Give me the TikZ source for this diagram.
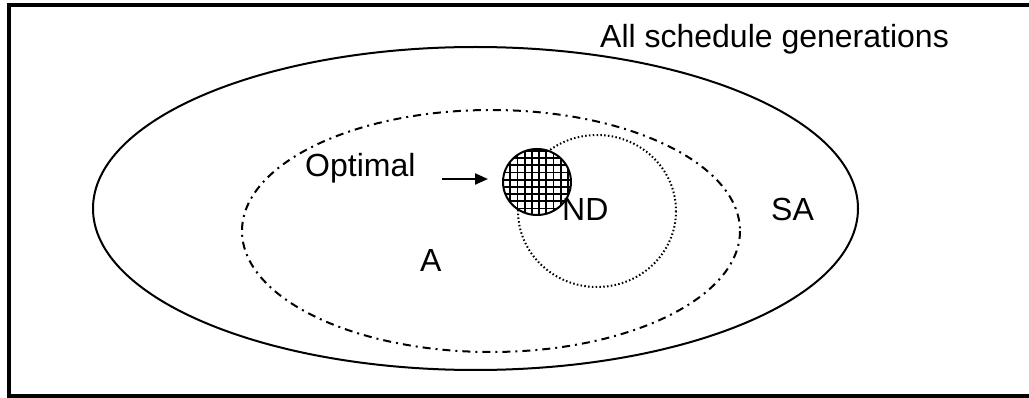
\documentclass[tikz,border=0pt]{standalone}
\usepackage{fontspec}
\setmainfont{Liberation Sans}
\usetikzlibrary{arrows.meta}
\begin{document}
\begin{tikzpicture}[x=1pt,y=-1pt,
  lbl/.style={inner sep=0pt,anchor=base west,font=\fontsize{32}{38}\selectfont},
  outerset/.style={line width=2pt},
  dashdot/.style={line width=2pt,dash pattern=on 8pt off 5pt on 2pt off 5pt},
  dotset/.style={line width=2pt,dash pattern=on 1.5pt off 2.3pt},
  arrowline/.style={line width=2.2pt,-{Triangle[length=13pt,width=11pt]}}]
\useasboundingbox (0,0) rectangle (1029,398);
\clip (0,0) rectangle (1029,398);
% frame
\draw[line width=4pt] (9,5) rectangle (1035,396);
% outer ellipse
\draw[outerset] (475.5,208.5) ellipse [x radius=382.5, y radius=161.5];
% dash-dot ellipse
\draw[dashdot] (491,231) ellipse [x radius=249, y radius=121];
% dotted circle
\draw[dotset] (597,211) ellipse [x radius=79, y radius=76];
% hatched optimal circle
\coordinate (optc) at (537,182);
\begin{scope}
  \clip (optc) ellipse [x radius=34, y radius=33];
  \fill[white] (optc) ellipse [x radius=34, y radius=33];
  \foreach \k in {0,...,10} {
    \draw[line width=1.8pt] (503+\k*7.2,145) -- (503+\k*7.2,220);
    \draw[line width=1.8pt] (500,151+\k*7.2) -- (575,151+\k*7.2);
  }
\end{scope}
\draw[line width=2pt] (optc) ellipse [x radius=34, y radius=33];
% labels
\node[lbl] (all) at (600,48) {All schedule generations};
\node[lbl] (opt) at (305,177) {Optimal};
\node[lbl] (nd) at (562,221) {ND};
\node[lbl] (sa) at (771,221) {SA};
\node[lbl] (a) at (420,272) {A};
% arrow
\coordinate (arrS) at (442,179);
\coordinate (arrE) at (488,179);
\draw[arrowline] (arrS) -- (arrE);
\end{tikzpicture}
\end{document}
